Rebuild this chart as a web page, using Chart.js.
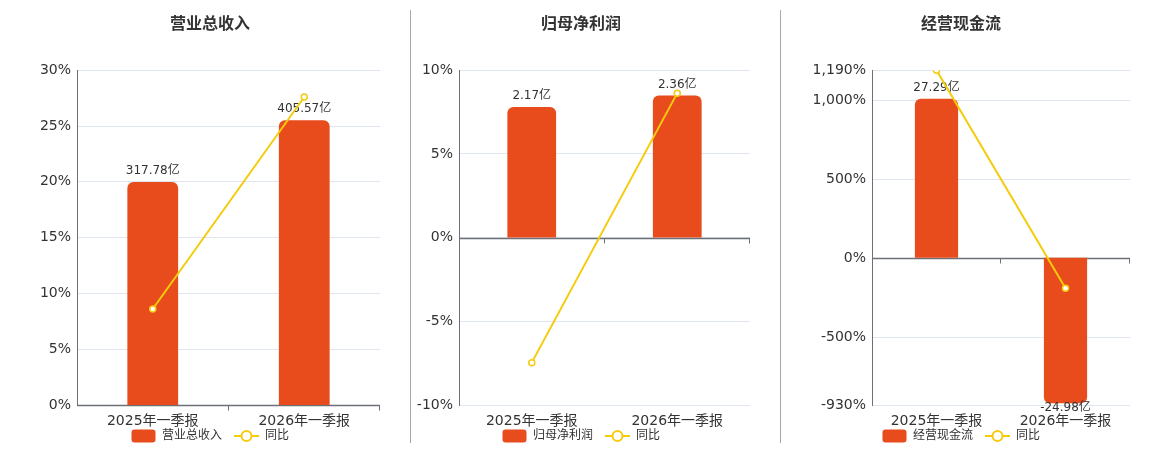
<!DOCTYPE html>
<html lang="zh-CN">
    <head>
        <meta charset="UTF-8" />
        <title>营业总收入 / 归母净利润 / 经营现金流</title>
        <style>
            body {
                margin: 0;
                background: #fff;
                font-family: "DejaVu Sans", "Noto Sans CJK SC", sans-serif;
            }
            .wrap {
                position: relative;
                width: 1160px;
                height: 450px;
            }
            .wrap canvas {
                position: absolute;
                top: 0;
            }
            .sep {
                position: absolute;
                top: 10px;
                width: 1px;
                height: 433px;
                background: #a8a8a8;
            }
        </style>
    </head>
    <body>
        <div class="wrap">
            <canvas id="c1" width="410" height="450" style="left:0;width:410px;height:450px"></canvas>
            <div class="sep" style="left:410px"></div>
            <canvas id="c2" width="369" height="450" style="left:411px;width:369px;height:450px"></canvas>
            <div class="sep" style="left:780px"></div>
            <canvas id="c3" width="379" height="450" style="left:781px;width:379px;height:450px"></canvas>
        </div>

        <script src="https://cdn.jsdelivr.net/npm/chart.js"></script>
        <script>
            // 数据
            const categories = ["2025年一季报", "2026年一季报"];

            const revenueValues = [317.78, 405.57]; // 亿
            const revenueYoY = [8.6, 27.6]; // %
            const revenueTicks = [0, 5, 10, 15, 20, 25, 30];

            const profitValues = [2.17, 2.36];
            const profitYoY = [-7.47, 8.63];
            const profitTicks = [-10, -5, 0, 5, 10];

            const cashValues = [27.29, -24.98];
            const cashYoY = [1190, -191];
            const cashTicks = [-930, -500, 0, 500, 1000, 1190];

            const BAR_COLOR = "#E84B1C";
            const LINE_COLOR = "#F5CB0B";
            const FONT = "'DejaVu Sans', 'Noto Sans CJK SC', sans-serif";

            // 图例图标
            function barIcon() {
                const c = document.createElement("canvas");
                c.width = 25;
                c.height = 14;
                const g = c.getContext("2d");
                g.fillStyle = BAR_COLOR;
                g.beginPath();
                g.roundRect(0.5, 0.5, 24, 13, 3);
                g.fill();
                return c;
            }
            function lineIcon() {
                const c = document.createElement("canvas");
                c.width = 25;
                c.height = 14;
                const g = c.getContext("2d");
                g.strokeStyle = LINE_COLOR;
                g.lineWidth = 2;
                g.beginPath();
                g.moveTo(0, 7);
                g.lineTo(25, 7);
                g.stroke();
                g.beginPath();
                g.arc(12.5, 7, 5, 0, Math.PI * 2);
                g.fillStyle = "#fff";
                g.fill();
                g.stroke();
                return c;
            }
            const iconBar = barIcon();
            const iconLine = lineIcon();

            // 零轴线 + 刻度
            const zeroAxis = {
                id: "zeroAxis",
                beforeDatasetsDraw(chart) {
                    const { ctx, chartArea } = chart;
                    const y = Math.round(chart.scales.y.getPixelForValue(0)) + 0.5;
                    const n = chart.data.labels.length;
                    const w = (chartArea.right - chartArea.left) / n;
                    ctx.save();
                    ctx.strokeStyle = "#6E7079";
                    ctx.lineWidth = 1.5;
                    ctx.beginPath();
                    ctx.moveTo(chartArea.left, y);
                    ctx.lineTo(chartArea.right, y);
                    ctx.stroke();
                    ctx.lineWidth = 1;
                    for (let i = 1; i <= n; i++) {
                        const x = Math.round(chartArea.left + i * w) - 0.5;
                        ctx.beginPath();
                        ctx.moveTo(x, y);
                        ctx.lineTo(x, y + 5);
                        ctx.stroke();
                    }
                    ctx.restore();
                },
            };

            // 柱子数值标签
            const barLabels = {
                id: "barLabels",
                afterDatasetDraw(chart, args) {
                    if (args.index !== 0) return;
                    const { ctx } = chart;
                    const ds = chart.data.datasets[0];
                    ctx.save();
                    ctx.font = "12px " + FONT;
                    ctx.fillStyle = "#333";
                    ctx.textAlign = "center";
                    ctx.textBaseline = "middle";
                    args.meta.data.forEach((el, i) => {
                        const v = ds.data[i];
                        const txt = v.toFixed(2) + "亿";
                        ctx.fillText(txt, el.x, v >= 0 ? el.y - 11 : el.y + 5);
                    });
                    ctx.restore();
                },
            };

            function makeChart(id, title, values, yoy, ticks, barRange, padL, axisW) {
                return new Chart(document.getElementById(id), {
                    data: {
                        labels: categories,
                        datasets: [
                            {
                                type: "bar",
                                label: title,
                                data: values,
                                yAxisID: "y1",
                                backgroundColor: BAR_COLOR,
                                borderRadius: 6,
                                barPercentage: 0.335,
                                categoryPercentage: 1,
                                order: 1,
                            },
                            {
                                type: "line",
                                label: "同比",
                                data: yoy,
                                yAxisID: "y",
                                borderColor: LINE_COLOR,
                                borderWidth: 2,
                                pointRadius: 3,
                                pointBorderWidth: 1.5,
                                pointBackgroundColor: "#fff",
                                pointBorderColor: LINE_COLOR,
                                tension: 0,
                                order: 0,
                            },
                        ],
                    },
                    options: {
                        responsive: false,
                        animation: false,
                        layout: { padding: { left: padL, right: 30, top: 0, bottom: -2 } },
                        plugins: {
                            tooltip: { enabled: false },
                            title: {
                                display: true,
                                text: title,
                                color: "#333",
                                font: { family: FONT, size: 16, weight: "bold" },
                                padding: { top: 15, bottom: 36 },
                            },
                            legend: {
                                position: "bottom",
                                labels: {
                                    usePointStyle: true,
                                    pointStyleWidth: 25,
                                    boxHeight: 12,
                                    padding: 12,
                                    color: "#333",
                                    font: { family: FONT, size: 12 },
                                    generateLabels: () => [
                                        { text: title, pointStyle: iconBar, lineWidth: 0, datasetIndex: 0, fontColor: "#333" },
                                        { text: "同比", pointStyle: iconLine, lineWidth: 0, datasetIndex: 1, fontColor: "#333" },
                                    ],
                                },
                            },
                        },
                        scales: {
                            x: {
                                offset: true,
                                grid: { display: false, drawTicks: false },
                                border: { display: false },
                                ticks: {
                                    color: "#333",
                                    padding: 8,
                                    maxRotation: 0,
                                    font: { family: FONT, size: 14 },
                                },
                                afterFit: (s) => {
                                    s.height = 13;
                                    // 标签比轴框高，不裁剪
                                    s._computeLabelArea = () => null;
                                },
                            },
                            y: {
                                position: "left",
                                min: ticks[0],
                                max: ticks[ticks.length - 1],
                                afterBuildTicks: (s) => {
                                    s.ticks = ticks.map((v) => ({ value: v }));
                                },
                                grid: { color: "#E0E6F1", drawTicks: false },
                                border: { display: true, color: "#6E7079", width: 1 },
                                ticks: {
                                    color: "#333",
                                    padding: 6,
                                    font: { family: FONT, size: 14 },
                                    callback: (v) => v.toLocaleString("en-US") + "%",
                                },
                                afterFit: (s) => {
                                    s.width = axisW;
                                    s._computeLabelArea = () => null;
                                },
                            },
                            y1: {
                                display: false,
                                min: barRange[0],
                                max: barRange[1],
                            },
                        },
                    },
                    plugins: [zeroAxis, barLabels],
                });
            }

            makeChart("c1", "营业总收入", revenueValues, revenueYoY, revenueTicks, [0, 477], 40, 37);
            makeChart("c2", "归母净利润", profitValues, profitYoY, profitTicks, [-2.78, 2.78], 1, 47);
            makeChart("c3", "经营现金流", cashValues, cashYoY, cashTicks, [-25.3, 32.2], 11, 80);
        </script>
    </body>
</html>
